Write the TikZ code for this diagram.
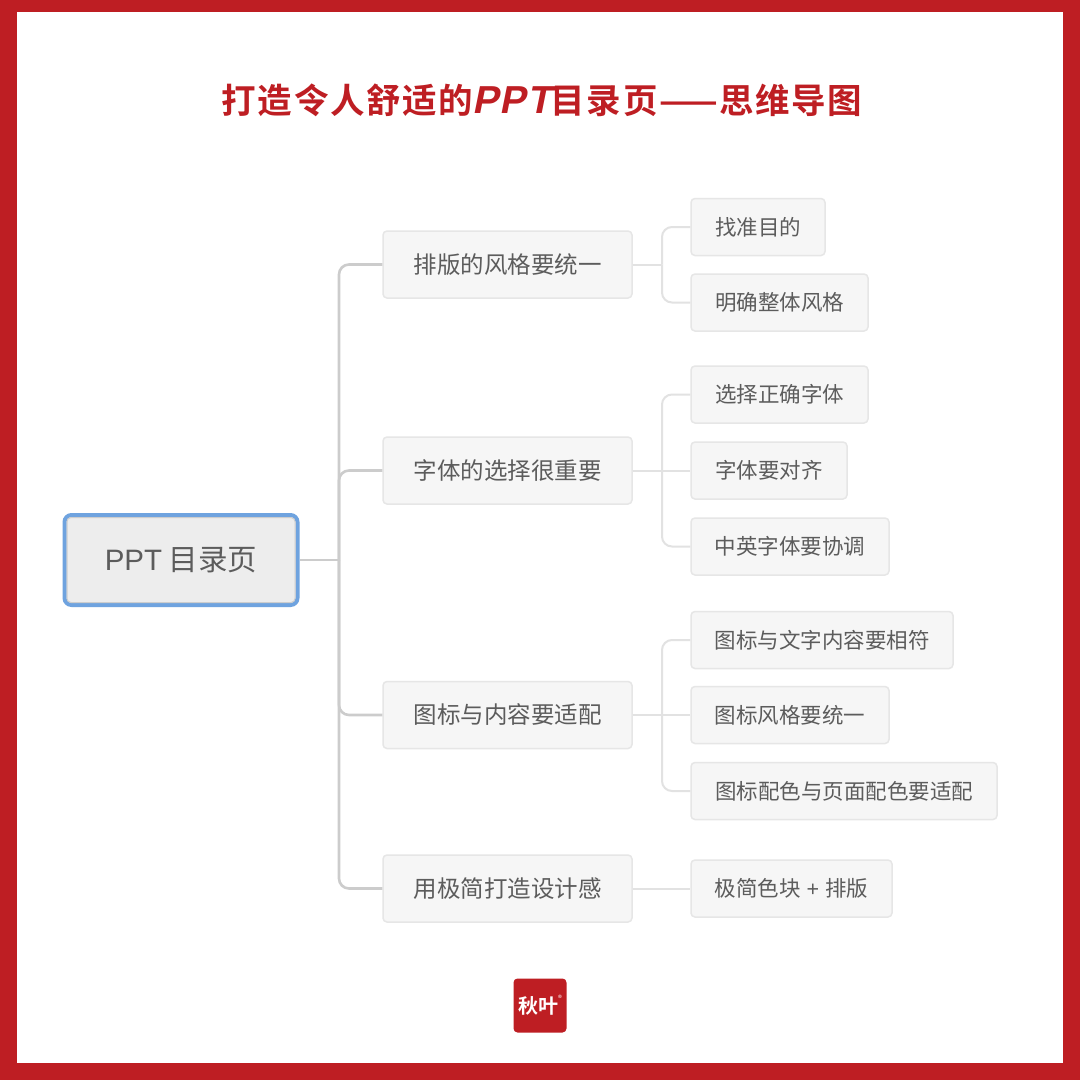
\documentclass[tikz,border=0pt]{standalone}
\usepackage{fontspec}
\setmainfont{Noto Sans CJK SC}
\newfontfamily\latinfont{Liberation Sans}
\newfontfamily\titlefont[LetterSpace=4.5]{Noto Sans CJK SC Bold}
\newfontfamily\titleslant[FakeSlant=0.2,LetterSpace=3]{Liberation Sans Bold}
\newfontfamily\logofont{Noto Sans CJK SC Bold}
\usetikzlibrary{calc}
\definecolor{framered}{HTML}{BE1E23}
\definecolor{inktext}{HTML}{5C5C5C}
\definecolor{rootblue}{HTML}{6FA3DF}
\definecolor{rootfill}{HTML}{EDEDED}
\definecolor{rootinner}{HTML}{CDCDCD}
\definecolor{boxfill}{HTML}{F6F6F6}
\definecolor{boxline}{HTML}{E6E6E6}
\definecolor{trunkline}{HTML}{CCCCCC}
\definecolor{twigline}{HTML}{E2E2E2}
\tikzset{
  x=1pt,y=-1pt,
  rootbox/.style={draw=rootblue,line width=4pt,fill=rootfill,rounded corners=7pt,inner sep=0pt,
    minimum width=233pt,minimum height=90pt,text=inktext,font=\fontsize{29.5}{34}\selectfont},
  rootedge/.style={draw=rootinner,line width=1pt,rounded corners=4pt},
  branchbox/.style={draw=boxline,line width=1.5pt,fill=boxfill,rounded corners=4pt,inner sep=0pt,
    minimum width=249pt,minimum height=67pt,text=inktext,font=\fontsize{23.5}{28}\selectfont},
  leafbox/.style={draw=boxline,line width=1.5pt,fill=boxfill,rounded corners=4pt,inner sep=0pt,
    minimum height=57pt,text=inktext,font=\fontsize{21.5}{26}\selectfont},
  trunk/.style={draw=trunkline,line width=2.6pt,rounded corners=10pt},
  twig/.style={draw=twigline,line width=2pt,rounded corners=10pt},
}
\begin{document}
\begin{tikzpicture}
\useasboundingbox (0,0) rectangle (1080,1080);
\fill[framered] (0,0) rectangle (1080,1080);
\fill[white] (17,12) rectangle (1063,1063);

\node[text=framered,inner sep=0pt,anchor=center] (title) at (542,100)
  {\fontsize{34.5}{40}\selectfont\titlefont 打造令人舒适的{\fontsize{39}{40}\selectfont\titleslant PPT}目录页——思维导图};

\node[rootbox] (root) at (181,560) {{\latinfont PPT} 目录页};
\draw[rootedge] ([shift={(4.5pt,4.5pt)}]root.south west) rectangle ([shift={(-4.5pt,-4.5pt)}]root.north east);

\node[branchbox] (b1) at (507.5,264.5) {排版的风格要统一};
\node[branchbox] (b2) at (507.5,470.5) {字体的选择很重要};
\node[branchbox] (b3) at (507.5,715) {图标与内容要适配};
\node[branchbox] (b4) at (507.5,888.5) {用极简打造设计感};

\node[leafbox,minimum width=134pt] (l11) at (758,227) {找准目的};
\node[leafbox,minimum width=177pt] (l12) at (779.5,302.5) {明确整体风格};
\node[leafbox,minimum width=177pt] (l21) at (779.5,394.5) {选择正确字体};
\node[leafbox,minimum width=156pt] (l22) at (769,470.5) {字体要对齐};
\node[leafbox,minimum width=198pt] (l23) at (790,546.5) {中英字体要协调};
\node[leafbox,minimum width=262pt] (l31) at (822,640) {图标与文字内容要相符};
\node[leafbox,minimum width=198pt] (l32) at (790,715) {图标风格要统一};
\node[leafbox,minimum width=306pt] (l33) at (844,791) {图标配色与页面配色要适配};
\node[leafbox,minimum width=201pt] (l41) at (791.5,888.5) {极简色块{\latinfont\ +\ }排版};

\coordinate (hub) at (339,560);
\coordinate (hub1) at (662,264.5);
\coordinate (hub2) at (662,470.5);
\coordinate (hub3) at (662,715);

\draw[trunk] (root.east) -- (hub);
\draw[trunk] (hub) |- (b1.west);
\draw[trunk] (hub) |- (b2.west);
\draw[trunk] (hub) |- (b3.west);
\draw[trunk] (hub) |- (b4.west);

\draw[twig] (b1.east) -- (hub1);
\draw[twig] (hub1) |- (l11.west);
\draw[twig] (hub1) |- (l12.west);
\draw[twig] (b2.east) -- (hub2);
\draw[twig] (hub2) |- (l21.west);
\draw[twig] (hub2) -- (l22.west);
\draw[twig] (hub2) |- (l23.west);
\draw[twig] (b3.east) -- (hub3);
\draw[twig] (hub3) |- (l31.west);
\draw[twig] (hub3) -- (l32.west);
\draw[twig] (hub3) |- (l33.west);
\draw[twig] (b4.east) -- (l41.west);

\node[fill=framered,rounded corners=4pt,minimum width=53pt,minimum height=54pt,inner sep=0pt,
  text=white,font=\fontsize{20}{24}\logofont] (logo) at (540,1005.5) {\hspace*{-4pt}秋叶};
\node[text=white,inner sep=0pt,font=\fontsize{8}{9}\selectfont] (reg) at (560,998) {®};
\end{tikzpicture}
\end{document}
